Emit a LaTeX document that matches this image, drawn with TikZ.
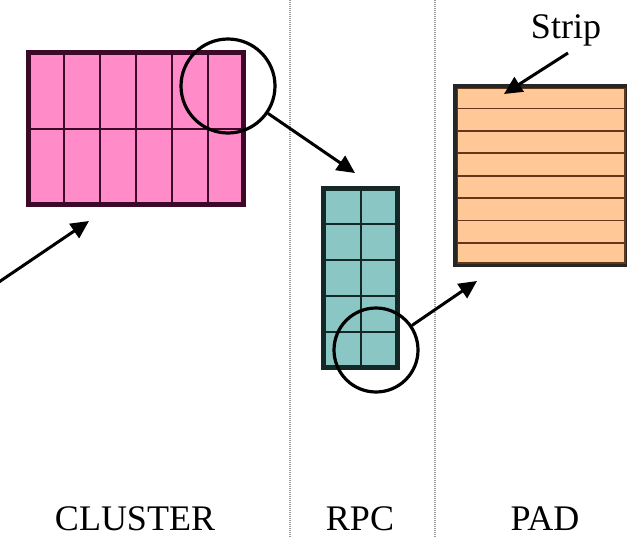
\documentclass[tikz,border=0pt]{standalone}
\usepackage{fontspec}
\setmainfont{Liberation Serif}
\usetikzlibrary{arrows.meta,calc}
\definecolor{clpink}{RGB}{255,140,200}
\definecolor{clline}{RGB}{60,10,40}
\definecolor{rpcteal}{RGB}{138,198,196}
\definecolor{rpcline}{RGB}{20,40,40}
\definecolor{padfill}{RGB}{255,200,150}
\definecolor{padline}{RGB}{100,55,25}
\tikzset{
  box/.style={draw, line width=3.3pt, rectangle, inner sep=0pt, anchor=north west},
  gridln/.style={line width=1.8pt},
  lens/.style={draw, circle, line width=3.2pt, inner sep=0pt},
  arr/.style={line width=3pt, -{Triangle[length=18pt,width=17pt]}},
  sep/.style={draw=gray!80, line width=1.2pt, dash pattern=on 1pt off 1pt},
  lbl/.style={font=\fontsize{36}{40}\selectfont, inner sep=0pt, anchor=base}
}
\begin{document}
\begin{tikzpicture}[x=1pt,y=-1pt]
\useasboundingbox (0,0) rectangle (627,538);
% separators
\coordinate (s1t) at (290,0); \coordinate (s1b) at (290,538);
\coordinate (s2t) at (435,0); \coordinate (s2b) at (435,538);
\draw[sep] (s1t) -- (s1b);
\draw[sep] (s2t) -- (s2b);
% cluster
\node[box, fill=clpink, draw=clline, minimum width=213pt, minimum height=150pt] (cl) at (28,52) {};
\foreach \i in {1,...,5}{
  \draw[gridln, clline] ($(cl.north west)!\i/6!(cl.north east)$) -- ($(cl.south west)!\i/6!(cl.south east)$);
}
\draw[gridln, clline] (cl.west) -- (cl.east);
\draw[box, draw=clline] (cl.north west) rectangle (cl.south east);
% rpc
\node[box, fill=rpcteal, draw=rpcline, minimum width=72pt, minimum height=177pt] (rpc) at (323,188) {};
\draw[gridln, rpcline] (rpc.north) -- (rpc.south);
\foreach \i in {1,...,4}{
  \draw[gridln, rpcline] ($(rpc.north west)!\i/5!(rpc.south west)$) -- ($(rpc.north east)!\i/5!(rpc.south east)$);
}
\draw[box, draw=rpcline] (rpc.north west) rectangle (rpc.south east);
% pad
\node[box, fill=padfill, draw=padline, minimum width=169pt, minimum height=176pt] (pad) at (455,86) {};
\foreach \i in {1,...,7}{
  \draw[gridln, padline] ($(pad.north west)!\i/8!(pad.south west)$) -- ($(pad.north east)!\i/8!(pad.south east)$);
}
\draw[box, draw=black!85] (pad.north west) rectangle (pad.south east);
% lenses
\node[lens, minimum size=94pt] (c1) at (228,86) {};
\node[lens, minimum size=84pt] (c2) at (376,350) {};
% arrows
\coordinate (t1) at (355,173);
\coordinate (t2) at (477,281);
\coordinate (t3) at (89,221);
\coordinate (f3) at (-4,284);
\coordinate (t4) at (504,94);
\draw[arr] (c1) -- (t1);
\draw[arr] (c2) -- (t2);
\draw[arr] (f3) -- (t3);
% labels
\node[lbl] (strip) at (566,38) {Strip};
\coordinate (f4) at (568,53);
\draw[arr] (f4) -- (t4);
\node[lbl] (lc) at (135,530) {CLUSTER};
\node[lbl] (lr) at (360,530) {RPC};
\node[lbl] (lp) at (545,530) {PAD};
\end{tikzpicture}
\end{document}
